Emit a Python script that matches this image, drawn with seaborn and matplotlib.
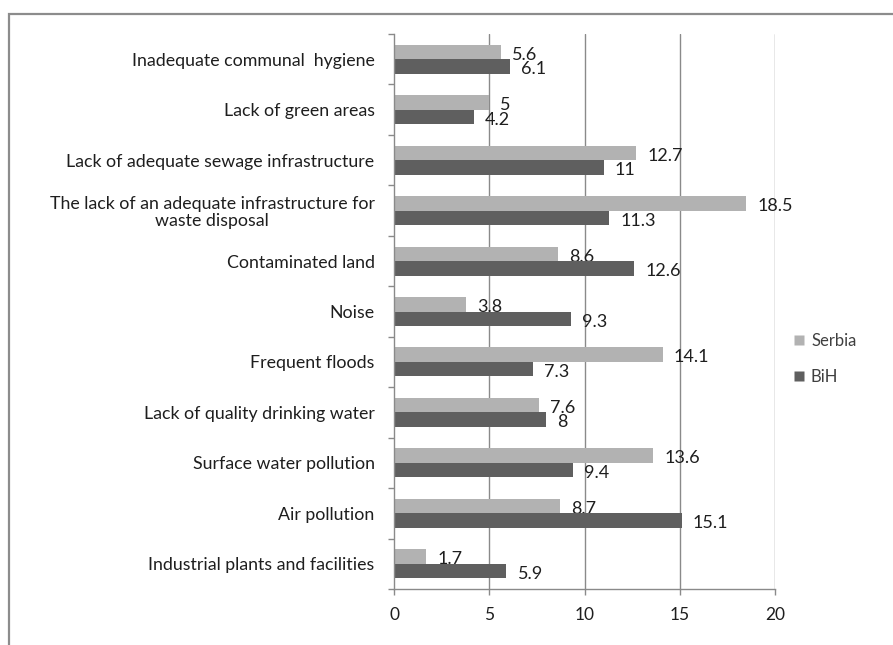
import matplotlib
matplotlib.use("Agg")
import matplotlib.pyplot as plt
from matplotlib.patches import Rectangle
from matplotlib.lines import Line2D
import numpy as np
import pandas as pd
import seaborn as sns

categories = [
    "Inadequate communal  hygiene",
    "Lack of green areas",
    "Lack of adequate sewage infrastructure",
    "The lack of an adequate infrastructure for\nwaste disposal",
    "Contaminated land",
    "Noise",
    "Frequent floods",
    "Lack of quality drinking water",
    "Surface water pollution",
    "Air pollution",
    "Industrial plants and facilities",
]
serbia = [5.6, 5, 12.7, 18.5, 8.6, 3.8, 14.1, 7.6, 13.6, 8.7, 1.7]
bih = [6.1, 4.2, 11, 11.3, 12.6, 9.3, 7.3, 8, 9.4, 15.1, 5.9]
series_names = ["Serbia", "BiH"]
x_ticks = [0, 5, 10, 15, 20]

colors = {"Serbia": "#b2b2b2", "BiH": "#5f5f5f"}
text_color = "#1e1e1e"
grid_color = "#8a8a8a"

sns.set_theme(style="white")
plt.rcParams["font.family"] = ["Lato", "DejaVu Sans"]

df = pd.DataFrame({
    "category": categories * 2,
    "value": serbia + bih,
    "series": [series_names[0]] * len(categories) + [series_names[1]] * len(categories),
})

fig = plt.figure(figsize=(8.93, 6.45), dpi=100)
ax = fig.add_axes([394 / 893, 56 / 645, 381 / 893, 555 / 645])

sns.barplot(data=df, y="category", x="value", hue="series", hue_order=series_names,
            order=categories, orient="h", palette=colors, width=0.575,
            edgecolor="none", linewidth=0, saturation=1, legend=False, ax=ax,
            zorder=2, errorbar=None)

ax.set_xlim(0, 20)
ax.set_ylim(len(categories) - 0.5, -0.5)
ax.set_xticks(x_ticks)
ax.set_xticklabels([str(t) for t in x_ticks], fontsize=12.5, color=text_color)
ax.set_xlabel("")
ax.set_ylabel("")

# vertical gridlines
for t in x_ticks[1:]:
    ax.axvline(t, color=grid_color, lw=1.0, zorder=0.5)

for s in ["top", "right"]:
    ax.spines[s].set_visible(False)
for s in ["left", "bottom"]:
    ax.spines[s].set_color(grid_color)
    ax.spines[s].set_linewidth(1.0)

ax.tick_params(axis="x", which="major", direction="out", length=4, width=1,
               color=grid_color, pad=9, bottom=True)
ax.set_yticks(np.arange(len(categories)))
ax.set_yticklabels(categories, fontsize=12.8, color=text_color)
ax.tick_params(axis="y", which="major", length=0, pad=14)
ax.set_yticks(np.arange(-0.5, len(categories)), minor=True)
ax.tick_params(axis="y", which="minor", direction="out", length=4, width=1,
               color=grid_color, left=True)
for lbl in ax.get_yticklabels():
    lbl.set_multialignment("center")
    lbl.set_linespacing(1.1)

# value labels
for container, name in zip(ax.containers, series_names):
    z = 1.5 if name == "Serbia" else 3
    for patch in container.patches:
        w = patch.get_width()
        yc = patch.get_y() + patch.get_height() / 2
        ax.annotate(f"{w:g}", xy=(w, yc), xytext=(8, -2), textcoords="offset points",
                    ha="left", va="center", fontsize=13, color=text_color,
                    zorder=z, annotation_clip=False)

# legend
handles = [Line2D([0], [0], marker="s", linestyle="none", markersize=6.5,
                  markerfacecolor=colors[n], markeredgecolor="none") for n in series_names]
fig.legend(handles, series_names, loc="center left", bbox_to_anchor=(776 / 893, 1 - 359 / 645),
           frameon=False, fontsize=12, labelcolor="#404040", handletextpad=0.2,
           labelspacing=1.2, handlelength=1.0)

# outer chart frame
fig.patches.append(Rectangle((8.5 / 893, -0.1), 1.2, 1.1 - 14 / 645, transform=fig.transFigure,
                             fill=False, edgecolor="#8c8c8c", linewidth=1.6))

fig.savefig("out.png", dpi=100)
